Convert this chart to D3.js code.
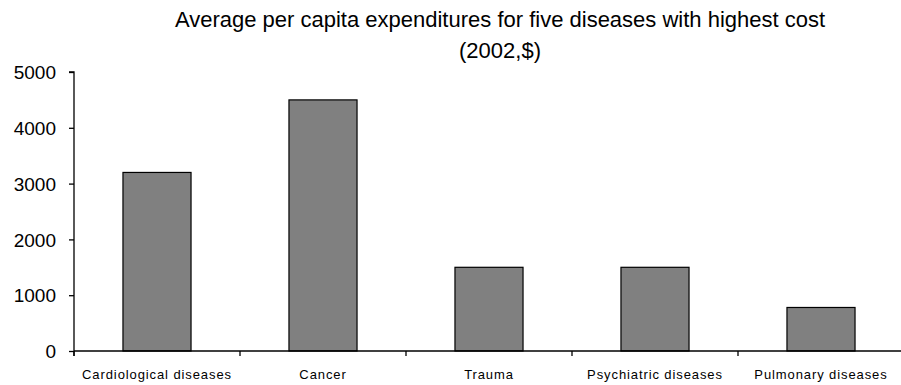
<!DOCTYPE html>
<html>
<head>
<meta charset="utf-8">
<script src="https://cdn.jsdelivr.net/npm/d3@7"></script>
<style>
  body { margin: 0; background: #fff; overflow: hidden; }
  svg { display: block; font-family: "Liberation Sans", Arial, sans-serif; }
</style>
</head>
<body>
<script>
// prettier-ignore
const categories = ["Cardiological diseases", "Cancer", "Trauma", "Psychiatric diseases", "Pulmonary diseases"];
const values = [3200, 4500, 1500, 1500, 780];
const yTicks = [0, 1000, 2000, 3000, 4000, 5000];
const titleLines = ["Average per capita expenditures for five diseases with highest cost", "(2002,$)"];

const width = 901;
const height = 385;
const margin = { top: 72, right: -3, bottom: 34, left: 74 };
const innerWidth = width - margin.left - margin.right;
const innerHeight = height - margin.top - margin.bottom;

const xScale = d3.scaleBand().domain(categories).range([0, innerWidth]).paddingInner(0.59).paddingOuter(0.295);
const yScale = d3.scaleLinear().domain([0, 5000]).range([innerHeight, 0]);

const svg = d3.select("body").append("svg").attr("width", width).attr("height", height);

svg.selectAll("text.title")
  .data(titleLines)
  .enter()
  .append("text")
  .attr("class", "title")
  .attr("x", 500)
  .attr("y", (d, i) => 27 + i * 31)
  .attr("text-anchor", "middle")
  .attr("font-size", 22)
  .attr("fill", "#000")
  .text((d) => d);

const group = svg.append("g").attr("transform", `translate(${margin.left} ${margin.top})`);

group.selectAll("rect")
  .data(values)
  .enter()
  .append("rect")
  .attr("x", (d, i) => xScale(categories[i]))
  .attr("width", xScale.bandwidth())
  .attr("y", (d) => yScale(d))
  .attr("height", (d) => innerHeight - yScale(d))
  .attr("fill", "#808080")
  .attr("stroke", "#000")
  .attr("stroke-width", 1.2);

// y axis
const yAxis = d3.axisLeft(yScale).tickValues(yTicks).tickSize(5).tickPadding(13).tickFormat(d3.format("d"));
const gy = group.append("g").call(yAxis);
gy.select(".domain").attr("d", `M-5,0H0V${innerHeight + 5}`).attr("stroke-width", 1.3);
gy.selectAll(".tick line").attr("stroke-width", 1.3);
gy.selectAll(".tick text").attr("font-size", 19).attr("font-family", "Liberation Sans, Arial, sans-serif").attr("dy", "0.35em");

// x axis with ticks at band boundaries
const step = xScale.step();
const boundaries = d3.range(categories.length + 1).map((i) => i * step);
const gx = group.append("g").attr("transform", `translate(0 ${innerHeight})`);
gx.append("line").attr("x1", 0).attr("x2", innerWidth).attr("stroke", "#000").attr("stroke-width", 1.3);
gx.selectAll("line.tick")
  .data(boundaries)
  .enter()
  .append("line")
  .attr("class", "tick")
  .attr("x1", (d) => d)
  .attr("x2", (d) => d)
  .attr("y1", 0)
  .attr("y2", 5)
  .attr("stroke", "#000")
  .attr("stroke-width", 1.3);
gx.selectAll("text")
  .data(categories)
  .enter()
  .append("text")
  .attr("x", (d) => xScale(d) + xScale.bandwidth() / 2)
  .attr("y", 28)
  .attr("text-anchor", "middle")
  .attr("font-size", 13)
  .attr("letter-spacing", 0.9)
  .attr("fill", "#000")
  .text((d) => d);
</script>
</body>
</html>
